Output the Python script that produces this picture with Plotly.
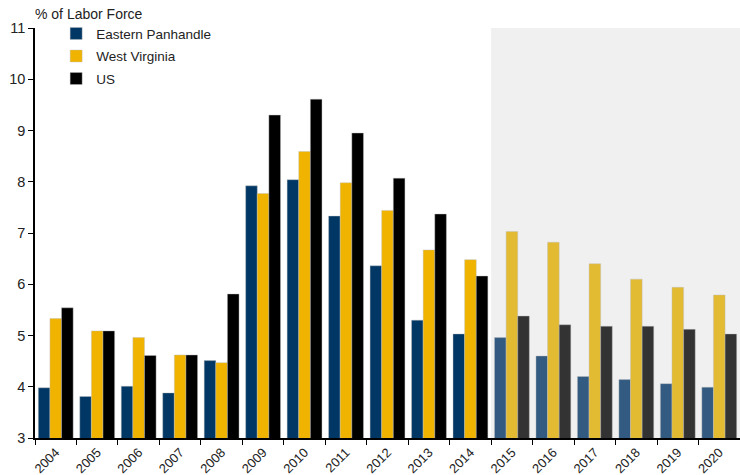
import plotly.graph_objects as go

years = [str(y) for y in range(2004, 2021)]
eastern_panhandle = [3.98, 3.81, 4.01, 3.88, 4.51, 7.92, 8.04, 7.33, 6.36, 5.30, 5.03,
                     4.96, 4.60, 4.20, 4.14, 4.06, 3.99]
west_virginia = [5.33, 5.09, 4.96, 4.62, 4.47, 7.77, 8.59, 7.98, 7.44, 6.67, 6.48,
                 7.03, 6.82, 6.40, 6.10, 5.94, 5.79]
us = [5.54, 5.09, 4.61, 4.62, 5.81, 9.30, 9.61, 8.95, 8.07, 7.37, 6.16,
      5.38, 5.21, 5.18, 5.18, 5.12, 5.03]
forecast_start = "2015"
y_ticks = [3, 4, 5, 6, 7, 8, 9, 10, 11]

first_fc = years.index(forecast_start)

def colors(actual, forecast):
    return [actual if i < first_fc else forecast for i in range(len(years))]

series = [
    ("Eastern Panhandle", eastern_panhandle, "#003764", "#335a80"),
    ("West Virginia", west_virginia, "#f0b400", "#e3bb33"),
    ("US", us, "#000000", "#333333"),
]

fig = go.Figure()
for name, vals, c_act, c_fc in series:
    fig.add_trace(go.Bar(
        x=years, y=vals, name=name, legendgroup=name,
        marker=dict(color=colors(c_act, c_fc),
                    line=dict(color="rgba(190,190,190,0.7)", width=0.6)),
    ))

fig.add_shape(type="rect", xref="x", yref="paper",
              x0=first_fc - 0.5, x1=len(years) - 0.5, y0=0, y1=1,
              fillcolor="#f0f0f0", line=dict(width=0), layer="below")

fig.update_layout(
    width=740, height=475,
    margin=dict(l=35, r=0, t=28, b=37),
    paper_bgcolor="white", plot_bgcolor="white",
    barmode="group", bargap=0.16, bargroupgap=0,
    font=dict(family="Liberation Sans, Arial, sans-serif", size=13, color="#222222"),
    showlegend=True,
    legend=dict(x=0.03, y=1.024, xanchor="left", yanchor="top",
                bgcolor="rgba(0,0,0,0)", font=dict(size=13.5, color="#222222"),
                itemwidth=30, tracegroupgap=2),
    xaxis=dict(type="category", range=[-0.5, len(years) - 0.5],
               showline=True, linecolor="black", linewidth=1.5,
               ticks="outside", ticklen=5, tickcolor="black", tickson="boundaries",
               tickangle=-45, tickfont=dict(size=13), showgrid=False,
               automargin=False),
    yaxis=dict(range=[3, 11], tickvals=y_ticks,
               showline=True, linecolor="black", linewidth=1.5,
               ticks="outside", ticklen=5, tickcolor="black",
               showgrid=False, zeroline=False, tickfont=dict(size=14.5),
               automargin=False),
    annotations=[dict(text="% of Labor Force", xref="paper", yref="paper",
                      x=-0.003, y=1.0, xanchor="left", yanchor="bottom", yshift=4,
                      showarrow=False, font=dict(size=14, color="#222222"))],
)

fig.write_html(
    "out.html",
    config={"displayModeBar": False},
    post_script="document.body.style.margin='0';document.body.style.overflow='hidden';",
)
